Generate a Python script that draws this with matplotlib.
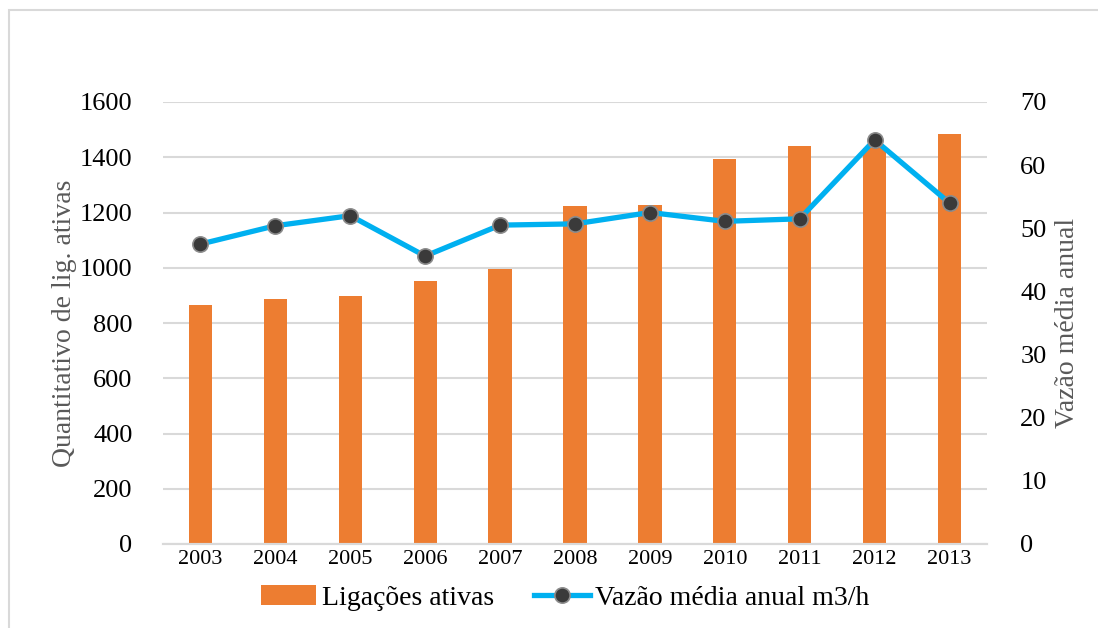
import numpy as np
import matplotlib
matplotlib.use('Agg')
import matplotlib.pyplot as plt
from matplotlib.patches import Rectangle

# data
years = ['2003', '2004', '2005', '2006', '2007', '2008',
         '2009', '2010', '2011', '2012', '2013']
ligacoes = [864, 888, 898, 952, 995, 1222, 1227, 1395, 1441, 1435, 1485]
vazao = [47.5, 50.4, 52.0, 45.6, 50.5, 50.7, 52.5, 51.1, 51.5, 64.0, 54.0]

bar_color = '#ED7D31'
line_color = '#00B0F0'
grid_color = '#D9D9D9'
label_color = '#595959'

plt.rcParams['font.family'] = ['Liberation Serif', 'DejaVu Serif']

W, H = 1098, 628
fig = plt.figure(figsize=(W / 100, H / 100), dpi=100)

# plot area in pixels: x 163..987, y 102..544
left, right, top, bottom = 163, 987, 102, 544
ax = fig.add_axes([left / W, 1 - bottom / H, (right - left) / W, (bottom - top) / H])
ax2 = ax.twinx()

x = np.arange(len(years))
bars = ax.bar(x, ligacoes, width=0.31, color=bar_color, zorder=2,
              label='Ligações ativas')
line, = ax2.plot(x, vazao, color=line_color, lw=3.8, marker='o',
                 markersize=11, markerfacecolor='#3A3A3A',
                 markeredgecolor='#8C8C8C', markeredgewidth=1.2,
                 zorder=3, label='Vazão média anual m3/h')

ax.set_xlim(-0.5, len(years) - 0.5)
ax.set_ylim(0, 1600)
ax.set_yticks(np.arange(0, 1601, 200))
ax2.set_ylim(0, 70)
ax2.set_yticks(np.arange(0, 71, 10))

ax.set_xticks(x)
ax.set_xticklabels(years, fontsize=16)
ax.tick_params(axis='y', labelsize=19, length=0, pad=22)
ax.tick_params(axis='x', length=0, pad=4)
ax2.tick_params(axis='y', labelsize=19, length=0, pad=24)

ax.grid(axis='y', color=grid_color, lw=1.5, zorder=0)
ax.set_axisbelow(True)
for a in (ax, ax2):
    for side in ('top', 'left', 'right'):
        a.spines[side].set_visible(False)
    a.spines['bottom'].set_color(grid_color)
    a.spines['bottom'].set_linewidth(1.5)

ax.set_ylabel('Quantitativo de lig. ativas', fontsize=20, color=label_color,
              labelpad=2)
ax2.set_ylabel('Vazão média anual', fontsize=20, color=label_color,
               labelpad=6)

ax2.set_zorder(ax.get_zorder() + 1)
ax2.patch.set_visible(False)

fig.legend([bars, line], ['Ligações ativas', 'Vazão média anual m3/h'],
           loc='center', bbox_to_anchor=(565 / W, 1 - 598 / H), ncol=2,
           frameon=False, fontsize=20, handlelength=2.0, handletextpad=0.2,
           columnspacing=1.45)

# chart border (only left and top edges visible in the reference)
fig.patches.append(Rectangle((9 / W, -0.1), 1.2, 1 - 10 / H + 0.1,
                             transform=fig.transFigure, fill=False,
                             edgecolor='#D9D9D9', lw=1.5))

fig.savefig('out.png', dpi=100)
